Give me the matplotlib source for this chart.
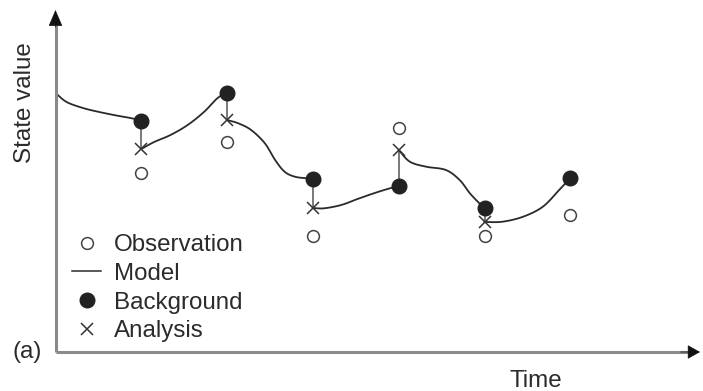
import numpy as np
import matplotlib.pyplot as plt
from matplotlib.lines import Line2D

plt.rcParams['font.family'] = ['Liberation Sans', 'DejaVu Sans']

# assimilation times
times = [1, 2, 3, 4, 5, 6]
background = [23.1, 25.9, 17.3, 16.6, 14.4, 17.4]
analysis = [20.3, 23.2, 14.4, 20.2, 13.0]
observation = [17.9, 21.0, 11.6, 22.4, 11.6, 13.7]

# model trajectory, one piece per forecast window (analysis -> next background)
model_t = [
    [0, 0.13, 0.32, 0.51, 0.71, 0.9, 1.0],
    [1.0, 1.15, 1.34, 1.54, 1.73, 1.89, 2.0],
    [2.0, 2.13, 2.28, 2.44, 2.56, 2.67, 2.79, 2.93, 3.0],
    [3.0, 3.13, 3.33, 3.52, 3.71, 3.87, 4.0],
    [4.0, 4.13, 4.32, 4.55, 4.71, 4.83, 4.94, 5.0],
    [5.0, 5.21, 5.45, 5.68, 5.87, 6.0],
]
model_v = [
    [25.9, 25.0, 24.4, 24.0, 23.65, 23.35, 23.1],
    [20.3, 21.0, 21.7, 22.7, 24.0, 25.4, 25.9],
    [23.2, 22.87, 22.2, 20.87, 19.2, 18.03, 17.53, 17.37, 17.3],
    [14.4, 14.37, 14.7, 15.3, 15.87, 16.3, 16.6],
    [20.2, 19.03, 18.53, 18.2, 17.2, 15.87, 14.87, 14.4],
    [13.0, 13.03, 13.53, 14.53, 16.2, 17.4],
]


def smooth(t, v, n=12):
    # Catmull-Rom pass through the points so the line has no kinks
    t = np.asarray(t, float)
    v = np.asarray(v, float)
    pts = np.column_stack([t, v])
    pts = np.vstack([2 * pts[0] - pts[1], pts, 2 * pts[-1] - pts[-2]])
    out = []
    for i in range(1, len(pts) - 2):
        p0, p1, p2, p3 = pts[i - 1], pts[i], pts[i + 1], pts[i + 2]
        s = np.linspace(0, 1, n, endpoint=False)[:, None]
        out.append(0.5 * ((2 * p1) + (-p0 + p2) * s
                          + (2 * p0 - 5 * p1 + 4 * p2 - p3) * s ** 2
                          + (-p0 + 3 * p1 - 3 * p2 + p3) * s ** 3))
    out.append(pts[-2][None, :])
    out = np.vstack(out)
    return out[:, 0], out[:, 1]


W, H = 703, 391
fig = plt.figure(figsize=(W / 100, H / 100), dpi=100)
ax = fig.add_axes([55.5 / W, (H - 352) / H, (700 - 55.5) / W, (352 - 10) / H])
ax.set_xlim(0, (700 - 55.5) / 85.8)
ax.set_ylim(0, 34.2)
ax.axis('off')

line_c = '#2a2a2a'
for t, v in zip(model_t, model_v):
    xs, ys = smooth(t, v)
    ax.plot(xs, ys, color=line_c, lw=1.3, zorder=2)

# update increments background -> analysis
for t, b, a in zip(times, background, analysis):
    ax.plot([t, t], [b, a], color='#555555', lw=1.1, zorder=1)

ax.plot(times, observation, 'o', ms=8.5, mfc='white', mec='#444444',
        mew=1.1, zorder=3)
ax.plot(times, background, 'o', ms=10.5, mfc='#222222', mec='#222222',
        zorder=4)
ax.plot(times[:len(analysis)], analysis, 'x', ms=9, mec='#333333',
        mew=1.1, zorder=5)

# axes with arrow heads
ax.plot([0, 0], [0, 0.97], transform=ax.transAxes, color='#8a8a8a', lw=2.2,
        clip_on=False, solid_capstyle='butt')
ax.plot([0, 0.99], [0, 0], transform=ax.transAxes, color='#8a8a8a', lw=2.2,
        clip_on=False, solid_capstyle='butt')
ax.annotate('', xy=(0, 1), xytext=(0, 0.95), xycoords='axes fraction',
            arrowprops=dict(arrowstyle='-|>,head_length=1.05,head_width=0.45',
                            color='#111111', lw=0.5, shrinkA=0, shrinkB=0))
ax.annotate('', xy=(1, 0), xytext=(0.97, 0), xycoords='axes fraction',
            arrowprops=dict(arrowstyle='-|>,head_length=0.8,head_width=0.45',
                            color='#111111', lw=0.5, shrinkA=0, shrinkB=0))

txt_c = '#2b2b2b'
fs = 17.4
fig.text(25 / W, 1 - 103 / H, 'State value', rotation=90, ha='center',
         va='center', fontsize=fs, color=txt_c)
fig.text(536 / W, 1 - 381 / H, 'Time', ha='center', va='center',
         fontsize=fs, color=txt_c)
fig.text(27 / W, 1 - 352 / H, '(a)', ha='center', va='center',
         fontsize=fs, color=txt_c)

handles = [
    Line2D([], [], ls='none', marker='o', ms=8.5, mfc='white',
           mec='#444444', mew=1.1),
    Line2D([], [], color=line_c, lw=1.1),
    Line2D([], [], ls='none', marker='o', ms=10.5, mfc='#222222',
           mec='#222222'),
    Line2D([], [], ls='none', marker='x', ms=9, mec='#333333', mew=1.1),
]
labels = ['Observation', 'Model', 'Background', 'Analysis']
leg = fig.legend(handles, labels, loc='upper left',
                 bbox_to_anchor=(72 / W, 1 - 234 / H), frameon=False,
                 fontsize=fs, handlelength=1.22, handletextpad=0.52,
                 labelspacing=0.28, borderpad=0, borderaxespad=0)
for t in leg.get_texts():
    t.set_color(txt_c)

fig.savefig('out.png', dpi=100)
